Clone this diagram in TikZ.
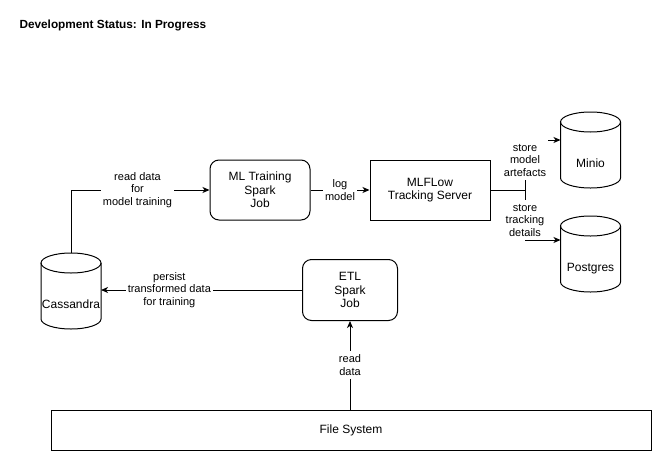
\documentclass[tikz,border=0pt]{standalone}
\usepackage{fontspec}
\setmainfont{Liberation Sans}
\usetikzlibrary{arrows.meta}

\tikzset{
  boxtext/.style={font=\fontsize{12pt}{13.5pt}\selectfont, align=center},
  jobbox/.style={boxtext, draw, line width=1pt, rounded corners=9pt, inner sep=0pt},
  serverbox/.style={boxtext, draw, line width=1pt, inner sep=0pt},
  store/.style={boxtext, inner sep=0pt, outer sep=0pt, minimum width=60pt, minimum height=76pt,
    text height=34pt, text depth=0pt},
  flow/.style={line width=1pt, -{Stealth[length=7pt,width=6pt,inset=2pt]}},
  flowlabel/.style={font=\fontsize{11pt}{12.5pt}\selectfont, align=center, fill=white, inner xsep=2pt, inner ysep=3.5pt}
}

\begin{document}
\begin{tikzpicture}[x=1pt,y=-1pt]
\useasboundingbox (0,0) rectangle (661,461);
\node[anchor=west, font=\fontsize{11.8pt}{14pt}\selectfont\bfseries] (title) at (16,25) {Development Status: In Progress};
% jobs and servers
\node[jobbox, minimum width=100pt, minimum height=60pt] (train) at (260,190) {ML Training\\Spark\\Job};
\node[serverbox, minimum width=120pt, minimum height=60pt] (mlflow) at (430,190) {MLFLow\\Tracking Server};
\node[jobbox, minimum width=95pt, minimum height=61pt] (etl) at (350,290) {ETL\\Spark\\Job};
\node[serverbox, minimum width=600pt, minimum height=40pt] (fs) at (351,430) {File System};
% stores
\node[store] (minio) at (590.5,150) {Minio};
\node[store] (postgres) at (590.5,254) {Postgres};
\node[store] (cassandra) at (71,291) {Cassandra};
\foreach \s in {minio,postgres,cassandra}{
  \draw[line width=1pt] ([yshift=-10pt]\s.north) ellipse [x radius=30pt, y radius=10pt];
  \draw[line width=1pt] ([yshift=-10pt]\s.north west) -- ([yshift=10pt]\s.south west)
    arc [start angle=180, end angle=360, x radius=30pt, y radius=10pt] -- ([yshift=-10pt]\s.north east);
}
% connectors
\draw[flow] (cassandra.north) |- node[flowlabel, pos=0.74] {read data\\for\\model training} (train.west);
\draw[flow] (train.east) -- node[flowlabel] {log\\model} (mlflow.west);
\coordinate (split) at (525,190);
\draw[line width=1pt] (mlflow.east) -- (split);
\draw[flow] (split) |- node[flowlabel, pos=0.3] {store\\model\\artefacts} ([yshift=10pt]minio.west);
\draw[flow] (split) |- node[flowlabel, pos=0.3] {store\\tracking\\details} ([yshift=14pt]postgres.west);
\draw[flow] (etl.west) -- node[flowlabel, pos=0.66] {persist\\transformed data\\for training} (etl.west -| cassandra.east);
\draw[flow] (fs.north -| etl.south) -- node[flowlabel] {read\\data} (etl.south);
\end{tikzpicture}
\end{document}
